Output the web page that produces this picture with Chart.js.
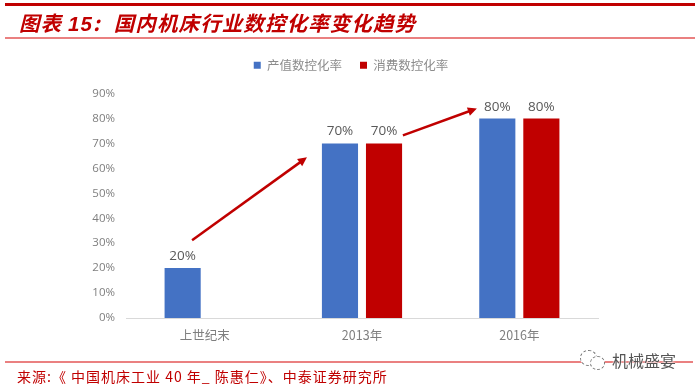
<!DOCTYPE html>
<html lang="zh-CN">
<head>
<meta charset="UTF-8">
<title>图表 15</title>
<script src="https://cdn.jsdelivr.net/npm/chart.js@4/dist/chart.umd.js"></script>
<style>
    html, body { margin: 0; padding: 0; background: #fff; }
    #wrap { position: relative; width: 700px; height: 390px; overflow: hidden; }
    #chart { position: absolute; left: 0; top: 0; }
    .rule { position: absolute; }
    .txt { position: absolute; white-space: nowrap; font-family: "Noto Sans CJK SC", sans-serif; }
    .bubble { position: absolute; border: 1px dashed #777; border-radius: 50%; background: #fff; }
</style>
</head>
<body>
<div id="wrap">
    <canvas id="chart" width="700" height="390"></canvas>
    <div class="rule" style="left:5px;top:3px;width:690px;height:3px;background:#c00000"></div>
    <div class="txt" style="left:19px;top:8px;font-size:20.5px;line-height:28px;font-style:italic;font-weight:700;color:#c00000;letter-spacing:1.1px">图表 <span style="font-family:'Liberation Sans'">15</span>:<span style="margin-left:13px">国内机床行业数控化率变化趋势</span></div>
    <div class="rule" style="left:5px;top:37px;width:690px;height:2px;background:#ea8080"></div>
    <div class="rule" style="left:5px;top:361px;width:688px;height:2px;background:#ea8080"></div>
    <div class="txt" style="left:17px;top:366px;font-size:14px;line-height:20px;color:#c00000;letter-spacing:1px">来源:《 中国机床工业 40 年_ 陈惠仁》、中泰证券研究所</div>
    <div class="bubble" style="left:580px;top:350px;width:15px;height:14px"></div>
    <div class="bubble" style="left:590px;top:356px;width:13px;height:12px"></div>
    <div class="txt" style="left:612px;top:349px;font-size:16px;line-height:22px;color:#555;text-shadow:0 0 2px #fff,0 0 2px #fff">机械盛宴</div>
</div>
<script>
// values
var categories = ['上世纪末', '2013年', '2016年'];
var outputRate = [20, 70, 80];
var consumeRate = [null, 70, 80];
var yTicks = [0, 10, 20, 30, 40, 50, 60, 70, 80, 90];

// arrows in chart units: [category from, value from, category to, value to]
var arrows = [
    [-0.08, 31.2, 0.65, 64.4],
    [1.26, 73.2, 1.73, 84]
];

// legend is centred on the whole page in the original, not on the plot
var moveLegend = {
    id: 'moveLegend',
    afterLayout: function (chart) {
        chart.legend.left += 52;
        chart.legend.right += 52;
        chart.legend.top -= 12;
        chart.legend.bottom -= 12;
    }
};

var barLabels = {
    id: 'barLabels',
    afterDatasetsDraw: function (chart) {
        var ctx = chart.ctx;
        ctx.save();
        ctx.font = '13.5px "Open Sans"';
        ctx.fillStyle = '#595959';
        ctx.textAlign = 'center';
        ctx.textBaseline = 'bottom';
        chart.data.datasets.forEach(function (ds, i) {
            chart.getDatasetMeta(i).data.forEach(function (bar, j) {
                if (ds.data[j] == null) return;
                ctx.fillText(ds.data[j] + '%', bar.x, bar.y - 5);
            });
        });
        ctx.restore();
    }
};

var trendArrows = {
    id: 'trendArrows',
    afterDatasetsDraw: function (chart) {
        var ctx = chart.ctx;
        var xs = chart.scales.x, ys = chart.scales.y;
        ctx.save();
        ctx.strokeStyle = '#c00000';
        ctx.fillStyle = '#c00000';
        ctx.lineWidth = 2.5;
        arrows.forEach(function (a) {
            var x1 = xs.getPixelForValue(a[0]), y1 = ys.getPixelForValue(a[1]);
            var x2 = xs.getPixelForValue(a[2]), y2 = ys.getPixelForValue(a[3]);
            var ang = Math.atan2(y2 - y1, x2 - x1);
            ctx.beginPath();
            ctx.moveTo(x1, y1);
            ctx.lineTo(x2 - 6 * Math.cos(ang), y2 - 6 * Math.sin(ang));
            ctx.stroke();
            ctx.beginPath();
            ctx.moveTo(x2, y2);
            ctx.lineTo(x2 - 10 * Math.cos(ang - 0.45), y2 - 10 * Math.sin(ang - 0.45));
            ctx.lineTo(x2 - 10 * Math.cos(ang + 0.45), y2 - 10 * Math.sin(ang + 0.45));
            ctx.closePath();
            ctx.fill();
        });
        ctx.restore();
    }
};

new Chart(document.getElementById('chart'), {
    type: 'bar',
    data: {
        labels: categories,
        datasets: [
            { label: '产值数控化率', data: outputRate, backgroundColor: '#4472c4' },
            { label: '消费数控化率', data: consumeRate, backgroundColor: '#c00000' }
        ]
    },
    options: {
        responsive: false,
        animation: false,
        categoryPercentage: 0.56,
        barPercentage: 0.82,
        layout: { padding: { top: 53, left: 0, right: 102, bottom: 45 } },
        plugins: {
            tooltip: { enabled: false },
            legend: {
                position: 'top',
                labels: {
                    boxWidth: 7,
                    boxHeight: 7,
                    color: '#8c8c8c',
                    padding: 18,
                    font: { family: '"Noto Sans CJK SC"', size: 12.5 }
                }
            }
        },
        scales: {
            x: {
                grid: { display: false },
                border: { color: '#d9d9d9', width: 1 },
                ticks: { color: '#7f7f7f', padding: 2, font: { family: '"Noto Sans CJK SC"', size: 12.5 } }
            },
            y: {
                min: 0,
                max: 90,
                afterBuildTicks: function (scale) {
                    scale.ticks = yTicks.map(function (v) { return { value: v }; });
                },
                afterFit: function (scale) { scale.width = 126; },
                grid: { display: false },
                border: { display: false },
                ticks: {
                    color: '#7f7f7f',
                    padding: 3,
                    font: { family: '"Open Sans"', size: 11.5 },
                    callback: function (v) { return v + '%'; }
                }
            }
        }
    },
    plugins: [moveLegend, barLabels, trendArrows]
});
</script>
</body>
</html>
